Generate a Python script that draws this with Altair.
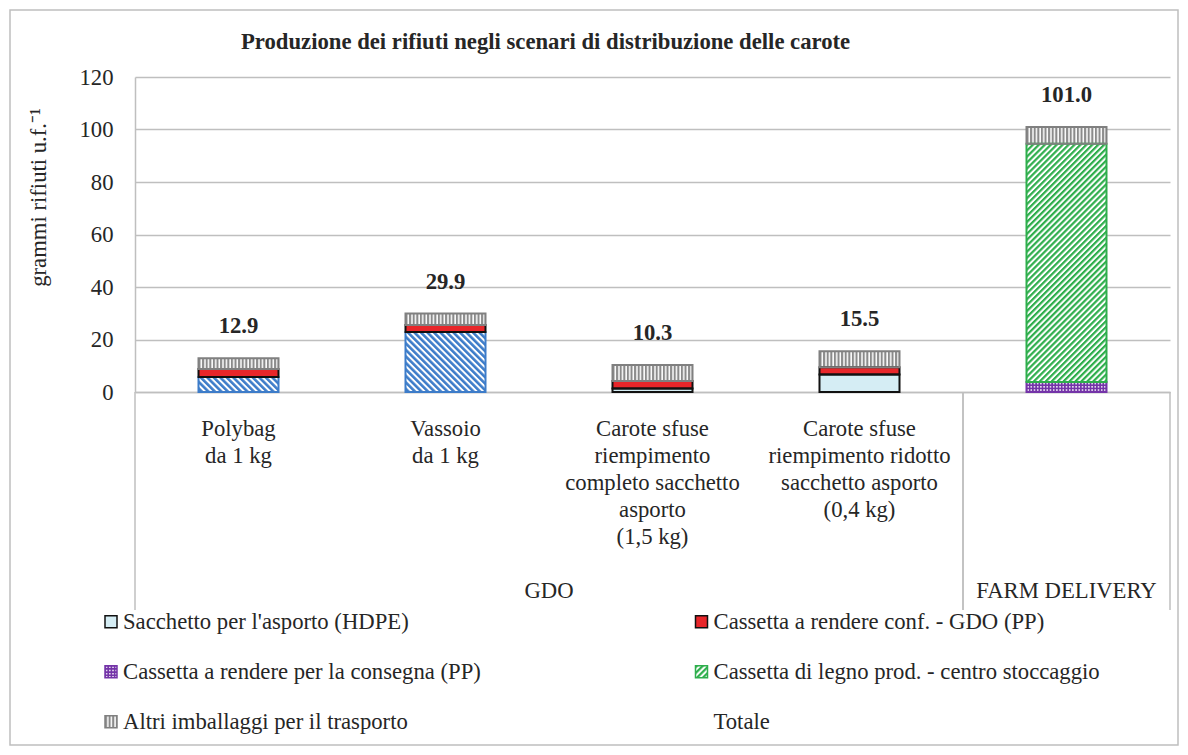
import base64
import altair as alt
import pandas as pd

# ---------------- data ----------------
categories = [
    "Polybag|da 1 kg",
    "Vassoio|da 1 kg",
    "Carote sfuse|riempimento|completo sacchetto|asporto|(1,5 kg)",
    "Carote sfuse|riempimento ridotto|sacchetto asporto|(0,4 kg)",
    " ",
]
groups = ["GDO", "FARM DELIVERY"]
group_sizes = [4, 1]

series = [
    "Imballaggio primario",
    "Sacchetto per l'asporto (HDPE)",
    "Cassetta a rendere per la consegna (PP)",
    "Cassetta di legno prod. - centro stoccaggio",
    "Cassetta a rendere conf. - GDO (PP)",
    "Altri imballaggi per il trasporto",
]
primario = [5.7, 22.9, 0.0, 0.0, 0.0]
sacchetto = [0.0, 0.0, 1.3, 6.7, 0.0]
consegna = [0.0, 0.0, 0.0, 0.0, 3.8]
legno = [0.0, 0.0, 0.0, 0.0, 90.8]
cassetta_gdo = [3.1, 2.6, 2.9, 2.7, 0.0]
altri = [4.1, 4.4, 6.1, 6.1, 6.4]
totale = [12.9, 29.9, 10.3, 15.5, 101.0]

legend_items = [
    "Sacchetto per l'asporto (HDPE)",
    "Cassetta a rendere conf. - GDO (PP)",
    "Cassetta a rendere per la consegna (PP)",
    "Cassetta di legno prod. - centro stoccaggio",
    "Altri imballaggi per il trasporto",
    "Totale",
]
y_ticks = [0, 20, 40, 60, 80, 100, 120]
title_text = "Produzione dei rifiuti negli scenari di distribuzione delle carote"

# ---------------- styles ----------------
SERIF = "Liberation Serif"
FS = 22.7
TXT = "#262626"
GRID = "#bfbfbf"


def svg_uri(body):
    svg = ("<svg xmlns='http://www.w3.org/2000/svg' width='100%' height='100%'>"
           + body + "</svg>")
    return "data:image/svg+xml;base64," + base64.b64encode(svg.encode()).decode()


def stripes(color, angle, period, thick, bg="white"):
    return svg_uri(
        f"<defs><pattern id='p' width='{period}' height='{period}' patternUnits='userSpaceOnUse' "
        f"patternTransform='rotate({angle})'><rect width='{period}' height='{period}' fill='{bg}'/>"
        f"<rect width='{thick}' height='{period}' fill='{color}'/></pattern></defs>"
        "<rect width='100%' height='100%' fill='url(#p)'/>")


def dots(color):
    return svg_uri(
        "<defs><pattern id='p' width='3.2' height='3.2' patternUnits='userSpaceOnUse'>"
        f"<rect width='3.2' height='3.2' fill='{color}'/><circle cx='1.6' cy='1.6' r='0.85' fill='white'/>"
        "</pattern></defs><rect width='100%' height='100%' fill='url(#p)'/>")


def solid(color):
    return svg_uri(f"<rect width='100%' height='100%' fill='{color}'/>")


fills = {
    series[0]: stripes("#3d7cc9", -45, 4.6, 2.6),
    series[1]: solid("#d5edf4"),
    series[2]: dots("#7434a8"),
    series[3]: stripes("#2eae4c", 45, 4.2, 2.2),
    series[4]: solid("#e8262a"),
    series[5]: stripes("#8a8a8a", 0, 3.6, 2.1),
}
strokes = ["#3d7cc9", "#111111", "#7434a8", "#2eae4c", "#111111", "#808080"]

# ---------------- tables ----------------
values = [primario, sacchetto, consegna, legno, cassetta_gdo, altri]
rows = []
for i, (s, vals) in enumerate(zip(series, values)):
    for c, v in zip(categories, vals):
        rows.append({"cat": c, "series": s, "value": v, "order": i, "url": fills[s]})
df = pd.DataFrame(rows)
tot_df = pd.DataFrame({"cat": categories, "totale": totale})
grp_df = pd.DataFrame({"group": groups, "size": group_sizes})
leg_df = pd.DataFrame({"name": legend_items,
                       "url": [fills.get(n, "") for n in legend_items]})

W, H = 1035, 315
n = len(categories)

band = alt.Scale(domain=categories, paddingInner=0.6135, paddingOuter=0.30675)
yscale = alt.Scale(domain=[0, 120], nice=False)

x_axis = alt.Axis(
    labelExpr="split(datum.label, '|')", labelFont=SERIF, labelFontSize=FS,
    labelColor=TXT, labelLineHeight=27, labelPadding=25, labelAngle=0,
    labelBaseline="top", labelLimit=400, labelOverlap=False, ticks=False,
    tickSize=0, domainColor=GRID, domainWidth=1.5, grid=False, title=None)
y_axis = alt.Axis(
    values=y_ticks, grid=True, gridColor=GRID, gridWidth=1.5, domain=True,
    domainColor=GRID, domainWidth=1.5, ticks=False, tickSize=0, labelPadding=22,
    labelFont=SERIF, labelFontSize=FS, labelColor=TXT,
    title="grammi rifiuti u.f.\u207b\u00b9", titleFont=SERIF, titleFontSize=FS,
    titleFontWeight="normal", titleColor=TXT, titleX=-90, titleY=120,
    titleAlign="center", titleBaseline="alphabetic", titleAngle=270)

stacked = (alt.Chart(df)
           .transform_filter("datum.value > 0")
           .transform_stack(stack="value", groupby=["cat"],
                            sort=[alt.SortField("order", "ascending")],
                            as_=["y0", "y1"]))

images = stacked.mark_image(aspect=False, width={"band": 1}).encode(
    x=alt.X("cat:N", scale=band, axis=x_axis),
    y=alt.Y("y0:Q", scale=yscale, axis=y_axis),
    y2="y1:Q",
    url="url:N",
)

outlines = stacked.mark_bar(fillOpacity=0, strokeWidth=2).encode(
    x=alt.X("cat:N", scale=band, axis=None),
    y=alt.Y("y0:Q", scale=yscale, axis=None),
    y2="y1:Q",
    stroke=alt.Stroke("series:N", scale=alt.Scale(domain=series, range=strokes), legend=None),
)

totals = alt.Chart(tot_df).mark_text(
    dy=-32, font=SERIF, fontSize=FS, fontWeight="bold", color=TXT, baseline="middle"
).encode(
    x=alt.X("cat:N", scale=band, axis=None),
    y=alt.Y("totale:Q", scale=yscale, axis=None),
    text=alt.Text("totale:Q", format=".1f"),
)

gx = alt.Scale(domain=[0, n], range=[0, W], nice=False, zero=False)
grp_base = (alt.Chart(grp_df)
            .transform_window(end="sum(size)", frame=[None, 0])
            .transform_calculate(start="datum.end - datum.size",
                                 mid="datum.end - datum.size / 2"))
dividers = grp_base.transform_fold(["start", "end"], as_=["k", "pos"]).mark_rule(
    color=GRID, strokeWidth=1.5
).encode(
    x=alt.X("pos:Q", scale=gx, axis=None),
    y=alt.value(H),
    y2=alt.value(533),
)
grp_labels = grp_base.mark_text(font=SERIF, fontSize=FS, color=TXT, baseline="middle").encode(
    x=alt.X("mid:Q", scale=gx, axis=None),
    y=alt.value(514),
    text="group:N",
)

lx = alt.Scale(domain=[0, 1], range=[-24, 566.5], nice=False, zero=False)
ly = alt.Scale(domain=[0, 2], range=[544.7, 644.7], nice=False, zero=False)
leg_base = (alt.Chart(leg_df)
            .transform_window(idx="row_number()")
            .transform_calculate(col="(datum.idx - 1) % 2",
                                 row="floor((datum.idx - 1) / 2)"))
leg_enc = dict(x=alt.X("col:Q", scale=lx, axis=None), y=alt.Y("row:Q", scale=ly, axis=None))
leg_sym = leg_base.transform_filter("datum.url != ''").mark_image(
    width=12, height=12, aspect=False, align="center", baseline="middle"
).encode(url="url:N", **leg_enc)
leg_box = leg_base.transform_filter("datum.url != ''").mark_square(
    size=144, filled=False, strokeWidth=1.5, opacity=1
).encode(
    stroke=alt.Stroke("name:N", scale=alt.Scale(domain=series, range=strokes), legend=None),
    **leg_enc)
leg_txt = leg_base.mark_text(align="left", dx=12, font=SERIF, fontSize=FS, color=TXT,
                             baseline="middle").encode(text="name:N", **leg_enc)

title = alt.Chart(pd.DataFrame({"t": [title_text]})).mark_text(
    font=SERIF, fontSize=FS, fontWeight="bold", color=TXT, align="left",
    baseline="alphabetic"
).encode(text="t:N", x=alt.value(106), y=alt.value(-28))

frame = alt.Chart(pd.DataFrame({"k": [0]})).mark_rect(
    fillOpacity=0, stroke=GRID, strokeWidth=1.5
).encode(x=alt.value(-125), x2=alt.value(1043), y=alt.value(-67), y2=alt.value(668))

chart = alt.layer(
    images, outlines, totals, dividers, grp_labels, leg_sym, leg_box, leg_txt, title, frame
).resolve_scale(
    x="independent", y="independent", stroke="independent"
).properties(
    width=W, height=H,
    padding={"left": 127, "top": 69, "right": 10, "bottom": 355},
    autosize=alt.AutoSizeParams(type="none"),
).configure(background="white").configure_view(stroke=None)

chart.save("out.html", embed_options={"renderer": "svg", "actions": False})
